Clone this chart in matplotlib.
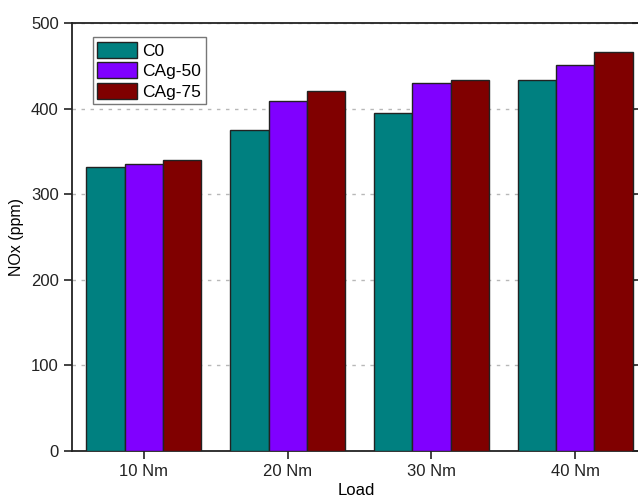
import numpy as np
import matplotlib.pyplot as plt

plt.rcParams["font.family"] = ["Liberation Sans", "DejaVu Sans"]

# data
loads = ["10 Nm", "20 Nm", "30 Nm", "40 Nm"]
c0 = [332, 375, 395, 434]
cag50 = [335, 409, 430, 451]
cag75 = [340, 421, 434, 466]

series = [("C0", c0, "#008080"), ("CAg-50", cag50, "#8000ff"), ("CAg-75", cag75, "#800000")]

fig = plt.figure(figsize=(6.38, 5), dpi=100)
ax = fig.add_axes([72 / 638, 49.3 / 500, 568 / 638, 427.4 / 500])

x = np.arange(1, len(loads) + 1)
w = 0.8 / 3
for i, (name, vals, col) in enumerate(series):
    ax.bar(x + (i - 1) * w, vals, width=w, color=col, edgecolor="#222222",
           linewidth=1.0, label=name, zorder=3)

ax.set_xlim(0.5, 4.45)
ax.set_ylim(0, 500)
ax.set_yticks([0, 100, 200, 300, 400, 500])
ax.set_xticks(x)
ax.set_xticklabels(loads)

ax.yaxis.grid(True, linestyle=(0, (2.5, 4)), color="#b8b8b8", linewidth=1.0, zorder=0)
ax.set_axisbelow(True)

for s in ax.spines.values():
    s.set_linewidth(1.3)
    s.set_color("#222222")

ax.tick_params(axis="y", which="both", direction="out", length=6, width=1.2,
               labelsize=12, colors="#222222", right=True, labelright=False)
ax.tick_params(axis="x", direction="out", length=6, width=1.2, labelsize=12,
               colors="#222222", top=False)
for t in ax.yaxis.get_major_ticks():
    t.tick2line.set_marker(0)  # inward on right side

ax.set_ylabel("NOx (ppm)", fontsize=11.5, labelpad=5)
ax.set_xlabel("Load", fontsize=12, labelpad=3)

leg = ax.legend(loc="upper left", bbox_to_anchor=(0.031, 0.975), fontsize=12.5,
                frameon=True, fancybox=False, edgecolor="#555555",
                handlelength=2.3, handleheight=1.05, handletextpad=0.3,
                labelspacing=0.2, borderpad=0.25, borderaxespad=0.2)
leg.get_frame().set_linewidth(1.0)

fig.savefig("out.png", dpi=100)
